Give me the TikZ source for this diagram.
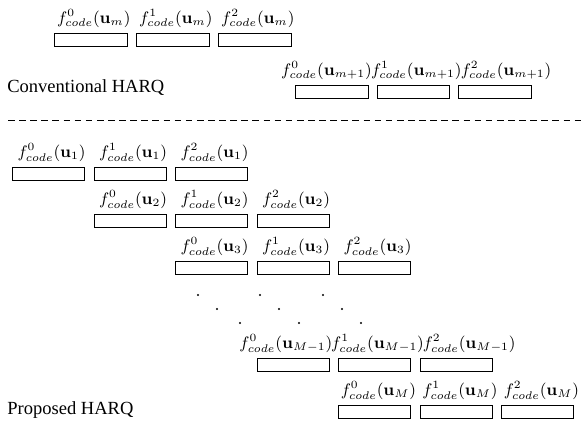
\documentclass[tikz,border=0pt]{standalone}
\usepackage[no-math]{fontspec}
\setmainfont{Liberation Serif}
\usetikzlibrary{positioning}
\tikzset{
	slot/.style={draw, line width=0.5pt, minimum width=39pt, minimum height=7pt, inner sep=0},
	lbl/.style={inner sep=0, font=\small},
	harq/.style={inner sep=0, anchor=base west}
}
\begin{document}
\begin{tikzpicture}[x=0.54pt, y=-0.54pt]
		\useasboundingbox (0,0) rectangle (584,428);
		% conventional
		\foreach \k in {0,1,2} {
			\node[slot] (cm\k) at (91+82*\k,39.5) {};
			\node[lbl, above=2.5pt of cm\k, xshift=1.5pt] (lcm\k) {$f^{\k}_{code}(\mathbf{u}_m)$};
		}
		\foreach \k/\s in {0/-3pt,1/1.5pt,2/6pt} {
			\node[slot] (cn\k) at (332+81.5*\k,91.5) {};
			\node[lbl, above=2.5pt of cn\k, xshift=\s] (lcn\k) {$f^{\k}_{code}(\mathbf{u}_{m+1})$};
		}
		\node[harq] (conv) at (7,93) {Conventional HARQ};
		\coordinate (dl) at (8,120);
		\coordinate (dr) at (584,120);
		\draw [dash pattern=on 3.6pt off 2.4pt] (dl)--(dr);
		% proposed
		\foreach \r/\i/\y in {1/0/174,2/1/221,3/2/268} {
			\foreach \k in {0,1,2} {
				\node[slot] (p\r\k) at (48.75+81.5*\i+81.5*\k,\y) {};
				\node[lbl, above=2.5pt of p\r\k, xshift=1.5pt] (lp\r\k) {$f^{\k}_{code}(\mathbf{u}_{\r})$};
			}
		}
		\foreach \x/\y in {198/295,260/295,323/295,217/309,279/309,342/309,240/323,299/323,361/323}
			\fill (\x,\y) circle (0.6pt);
		\foreach \k/\s in {0/-4pt,1/1.5pt,2/7pt} {
			\node[slot] (pa\k) at (293.25+81.5*\k,365) {};
			\node[lbl, above=2.5pt of pa\k, xshift=\s] (lpa\k) {$f^{\k}_{code}(\mathbf{u}_{M-1})$};
		}
		\foreach \k in {0,1,2} {
			\node[slot] (pb\k) at (374.75+81.5*\k,412) {};
			\node[lbl, above=2.5pt of pb\k, xshift=2pt] (lpb\k) {$f^{\k}_{code}(\mathbf{u}_M)$};
		}
		\node[harq] (prop) at (7,415) {Proposed HARQ};
	\end{tikzpicture}
\end{document}
